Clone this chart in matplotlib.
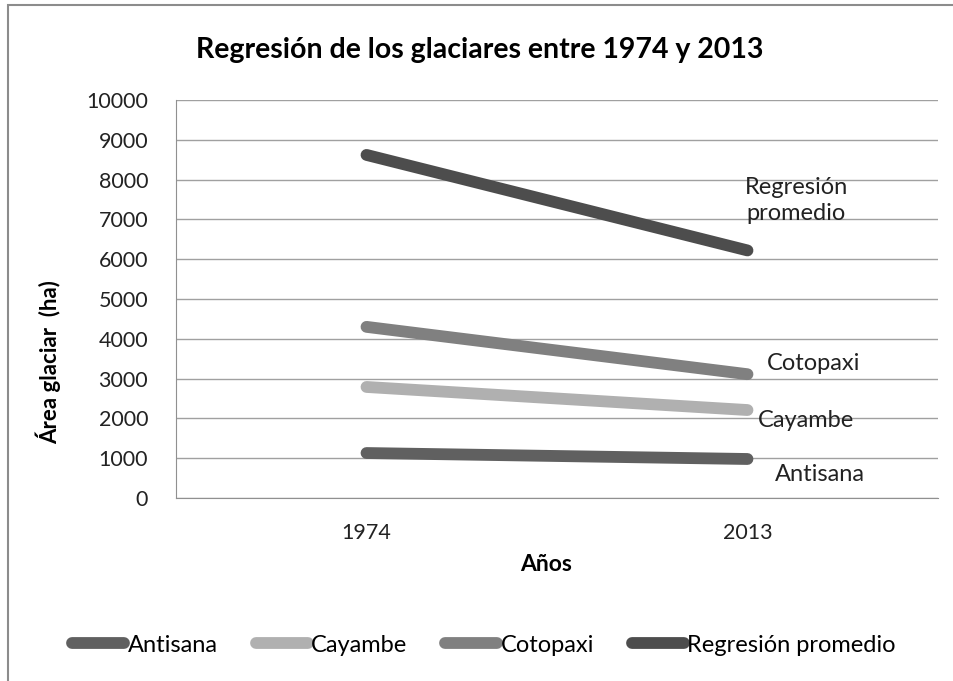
import numpy as np
import matplotlib.pyplot as plt
from matplotlib.patches import Rectangle

# datos
years = ['1974', '2013']
antisana = [1130, 980]
cayambe = [2790, 2210]
cotopaxi = [4300, 3110]
promedio = [8620, 6220]

names = ['Antisana', 'Cayambe', 'Cotopaxi', 'Regresión promedio']
series = [antisana, cayambe, cotopaxi, promedio]
colors = ['#606060', '#b0b0b0', '#808080', '#4d4d4d']
end_labels = ['Antisana', 'Cayambe', 'Cotopaxi', 'Regresión\npromedio']
offsets = [(72, -16), (59, -10), (66, 11), (49, 50)]

plt.rcParams['font.family'] = ['Lato', 'DejaVu Sans']

fig = plt.figure(figsize=(9.54, 6.81), dpi=100)
W, H = 954, 681
ax = fig.add_axes([176/W, 1-498/H, (938-176)/W, (498-100)/H])

x = np.arange(len(years))
for name, vals, c in zip(names, series, colors):
    ax.plot(x, vals, color=c, lw=8.5, solid_capstyle='round', label=name)

for lab, vals, off in zip(end_labels, series, offsets):
    ax.annotate(lab, (x[-1], vals[-1]), xytext=off, textcoords='offset pixels',
                ha='center', va='center', fontsize=17, color='#222222',
                linespacing=1.3)

ax.set_xlim(-0.5, 1.5)
ax.set_ylim(0, 10000)
ax.set_yticks(np.arange(0, 10001, 1000))
ax.set_xticks(x)
ax.set_xticklabels(years)
ax.yaxis.grid(True, color='#a0a0a0', lw=1)
ax.set_axisbelow(True)
for s in ['top', 'right']:
    ax.spines[s].set_visible(False)
for s in ['left', 'bottom']:
    ax.spines[s].set_color('#909090')
ax.tick_params(length=0, labelsize=15.5, colors='#222222')
ax.tick_params(axis='y', pad=20)
ax.tick_params(axis='x', pad=18)

ax.set_xlabel('Años', fontsize=16.5, fontweight='bold')
ax.xaxis.set_label_coords(0.486, -0.14)
ax.set_ylabel('Área glaciar  (ha)', fontsize=16, fontweight='bold')
ax.yaxis.set_label_coords(-0.151, 0.342)
fig.text(480/W, 1-50/H, 'Regresión de los glaciares entre 1974 y 2013',
         fontsize=20.5, fontweight='bold', ha='center', va='center')

fig.legend(loc='center', bbox_to_anchor=(484/W, 1-645/H), ncol=4, frameon=False,
           fontsize=17, handlelength=2.2, handletextpad=0.15, columnspacing=1.6)

# marco exterior del grafico
fig.patches.append(Rectangle((8/W, -0.1), 1.2, 1-5/H+0.1, transform=fig.transFigure,
                             fill=False, edgecolor='#8c8c8c', lw=1.5))

fig.savefig('out.png', dpi=100)
